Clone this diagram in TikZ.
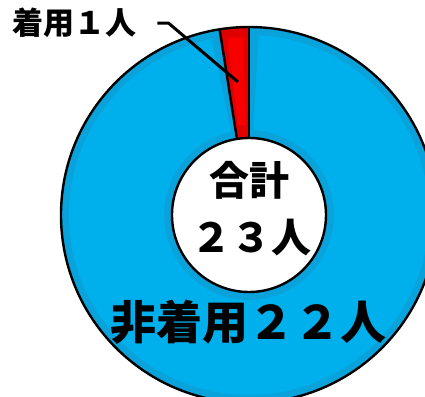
\documentclass[tikz,border=0pt]{standalone}
\usepackage{fontspec}
\newfontfamily\jpfont{Noto Sans CJK JP}
\definecolor{bluedark}{HTML}{0AA2DA}
\definecolor{bluelight}{HTML}{00B0EC}
\definecolor{reddark}{HTML}{E00000}
\definecolor{redlight}{HTML}{F80000}
\tikzset{lbl/.style={inner sep=0pt, font=\jpfont\bfseries}}

\begin{document}
\begin{tikzpicture}[x=0.5pt,y=0.5pt,line join=round]
        \useasboundingbox (-249,-182) rectangle (176,215);
        \clip (-249,-182) rectangle (176,215);
        % ring, blue part
        \fill[bluedark] (0,0) -- (99:188) arc (99:450:188) -- cycle;
        \fill[bluelight] (102:180) arc (102:447:180) -- (447:85) arc (447:102:85) -- cycle;
        % red part
        \fill[reddark] (0,0) -- (90:188) arc (90:99:188) -- cycle;
        \fill[redlight] (92:178) arc (92:97:178) -- (97:90) arc (97:92:90) -- cycle;
        % outlines
        \draw[line width=1.2pt] (0,0) circle (188);
        \foreach \a in {90,99}
        \draw[line width=1.2pt] (\a:77) -- (\a:188);
        \draw[line width=1.2pt, fill=white] (0,0) circle (77);
        % texts
        \node[lbl, font=\jpfont\bfseries\fontsize{15.5pt}{16pt}\selectfont] (wear) at (-174,192) {着用１人};
        \node[lbl, font=\jpfont\bfseries\fontsize{20pt}{21pt}\selectfont] (sum) at (1,35) {合計};
        \node[lbl, font=\jpfont\bfseries\fontsize{20pt}{21pt}\selectfont] (total) at (3,-23) {２３人};
        \node[lbl, font=\jpfont\bfseries\fontsize{23pt}{24pt}\selectfont] (nowear) at (0,-107) {非着用２２人};
        \coordinate (tip) at (-11,133);
        \draw[line width=1.5pt] ([xshift=10pt]wear.east) -- ++(11,0) -- (tip);
    \end{tikzpicture}
\end{document}
